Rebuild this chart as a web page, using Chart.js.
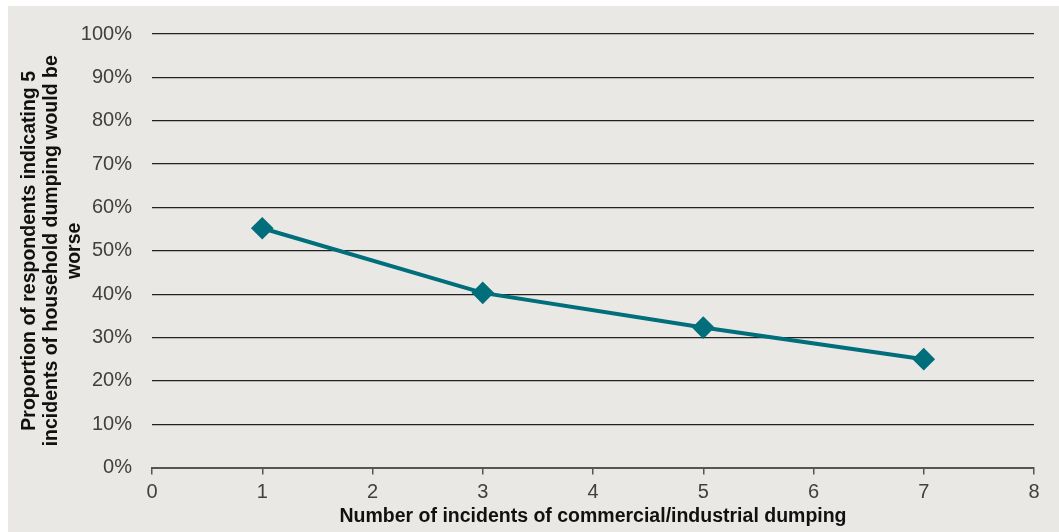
<!DOCTYPE html>
<html lang="en">
<head>
    <script src="https://cdn.jsdelivr.net/npm/chart.js"></script>
    <meta charset="UTF-8">
    <title>Dumping chart</title>
    <style>
        body { margin: 0; background: #ffffff; }
        #wrap { position: absolute; left: 8px; top: 6px; width: 1051px; height: 526px; background: #e9e8e4; }
    </style>
</head>
<body>
    <div id="wrap">
        <canvas id="myChart"></canvas>
    </div>
    <script>
        const incidents = [1, 3, 5, 7];
        const proportion = [55.2, 40.3, 32.3, 25.0];
        const yTitle = ['Proportion of respondents indicating 5', 'incidents of household dumping would be', 'worse'];
        const xTitle = 'Number of incidents of commercial/industrial dumping';

        const points = incidents.map((x, i) => ({ x: x, y: proportion[i] }));
        const tickFont = "'Liberation Sans', Arial, sans-serif";
        const titleFont = "'Liberation Sans Narrow', 'Arial Narrow', 'Liberation Sans', sans-serif";

        const ctx = document.getElementById('myChart');
        new Chart(ctx, {
            type: 'line',
            data: {
                datasets: [{
                    data: points,
                    borderColor: '#006e7b',
                    backgroundColor: '#006e7b',
                    borderWidth: 4,
                    pointStyle: 'rectRot',
                    pointRadius: 8.5,
                    pointHoverRadius: 8.5,
                    tension: 0
                }]
            },
            options: {
                responsive: true,
                maintainAspectRatio: false,
                animation: false,
                layout: { padding: { left: 6, right: 25, top: 28, bottom: 4 } },
                plugins: {
                    legend: { display: false },
                    tooltip: { enabled: false }
                },
                scales: {
                    x: {
                        type: 'linear',
                        min: 0,
                        max: 8,
                        ticks: {
                            stepSize: 1,
                            color: '#404040',
                            font: { family: tickFont, size: 20 },
                            padding: 6
                        },
                        grid: {
                            drawOnChartArea: false,
                            drawTicks: true,
                            tickLength: 7,
                            color: '#555555',
                            lineWidth: 1.5
                        },
                        border: { display: true, color: '#555555', width: 2 },
                        title: {
                            display: true,
                            text: xTitle,
                            color: '#111111',
                            font: { family: titleFont, size: 19.5, weight: 'bold' },
                            padding: { top: -6, bottom: 0 }
                        }
                    },
                    y: {
                        min: 0,
                        max: 100,
                        ticks: {
                            stepSize: 10,
                            color: '#404040',
                            font: { family: tickFont, size: 20 },
                            padding: 0,
                            callback: (v) => v + '%'
                        },
                        grid: {
                            drawTicks: true,
                            tickLength: 20,
                            tickColor: 'transparent',
                            color: '#222222',
                            lineWidth: 1.2
                        },
                        border: { display: false },
                        title: {
                            display: true,
                            text: yTitle,
                            color: '#111111',
                            font: { family: titleFont, size: 19.5, weight: 'bold', lineHeight: 1.16 },
                            padding: { top: 4, bottom: -5 }
                        }
                    }
                }
            }
        });
    </script>
</body>
</html>
